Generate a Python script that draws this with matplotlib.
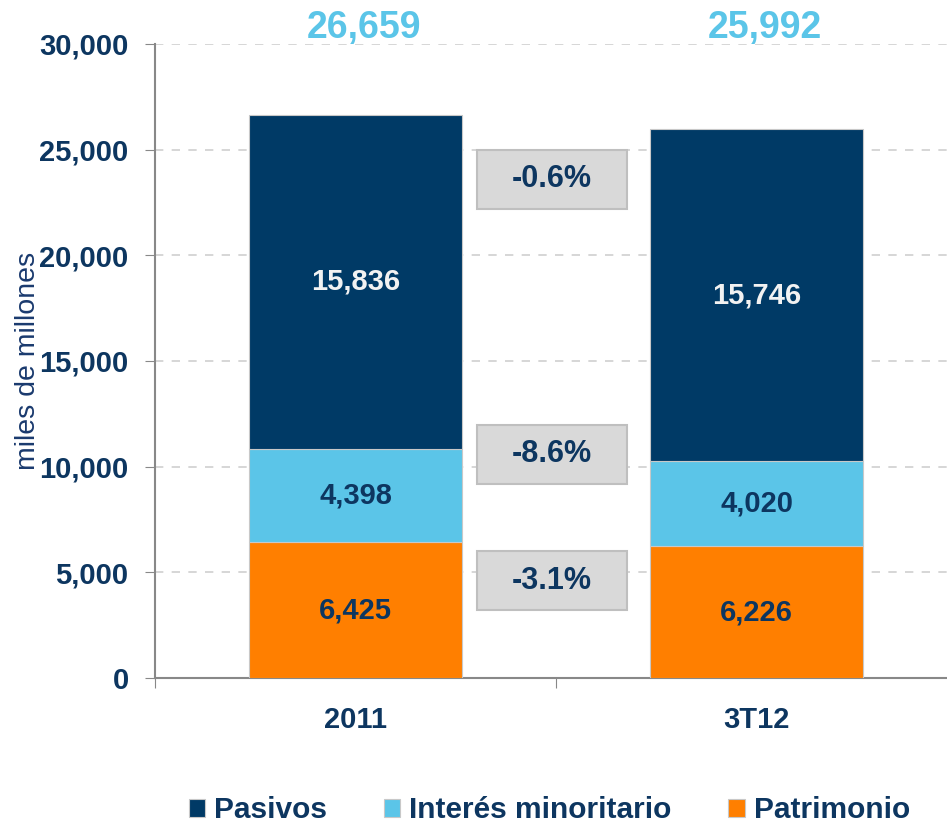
import numpy as np
import matplotlib.pyplot as plt
from matplotlib.patches import Rectangle

plt.rcParams['font.family'] = ['Liberation Sans', 'DejaVu Sans']

categories = ['2011', '3T12']
patrimonio = [6425, 6226]
interes = [4398, 4020]
pasivos = [15836, 15746]
totals = [26659, 25992]
changes = ['-0.6%', '-8.6%', '-3.1%']
change_y = [23590, 10580, 4610]

navy = '#003A66'
lblue = '#5BC5E8'
orange = '#FF7F00'
txt = '#0D3660'

fig = plt.figure(figsize=(9.47, 8.27), dpi=100)
ax = fig.add_axes([0.1637, 0.1802, 0.847, 0.7666])

x = np.arange(len(categories))
w = 0.53
ax.bar(x, patrimonio, w, color=orange, edgecolor='#c8c8c8', linewidth=0.8, label='Patrimonio', zorder=3)
ax.bar(x, interes, w, bottom=patrimonio, color=lblue, edgecolor='#c8c8c8', linewidth=0.8,
       label='Interés minoritario', zorder=3)
bot2 = np.array(patrimonio) + np.array(interes)
ax.bar(x, pasivos, w, bottom=bot2, color=navy, edgecolor='#c8c8c8', linewidth=0.8, label='Pasivos', zorder=3)

for i in range(len(x)):
    ax.text(x[i], patrimonio[i] / 2, '{:,}'.format(patrimonio[i]), ha='center', va='center',
            fontsize=21, fontweight='bold', color=txt, zorder=5)
    ax.text(x[i], patrimonio[i] + interes[i] / 2, '{:,}'.format(interes[i]), ha='center', va='center',
            fontsize=21, fontweight='bold', color=txt, zorder=5)
    ax.text(x[i], bot2[i] + pasivos[i] / 2, '{:,}'.format(pasivos[i]), ha='center', va='center',
            fontsize=21, fontweight='bold', color='#f2f2f2', zorder=5)
    ax.text(x[i] + 0.02, 30750, '{:,}'.format(totals[i]), ha='center', va='center',
            fontsize=27, fontweight='bold', color=lblue, clip_on=False)

bw, bh = 0.374, 2790
for lab, yc in zip(changes, change_y):
    ax.add_patch(Rectangle((0.49 - bw / 2, yc - bh / 2), bw, bh, facecolor='#D9D9D9',
                           edgecolor='#BFBFBF', linewidth=1.5, zorder=4))
    ax.text(0.49, yc, lab, ha='center', va='center', fontsize=22, fontweight='bold', color=txt, zorder=5)

ax.set_xlim(-0.5, 1.5)
ax.set_ylim(0, 30000)
ax.set_yticks(np.arange(0, 30001, 5000))
ax.set_yticklabels(['{:,}'.format(v) for v in range(0, 30001, 5000)],
                   fontsize=21, fontweight='bold', color=txt)
ax.set_xticks([-0.5, 0.5, 1.5])
ax.set_xticklabels([])
ax.set_xticks(x, minor=True)
ax.set_xticklabels(categories, minor=True, fontsize=21, fontweight='bold', color=txt)
ax.tick_params(axis='x', which='minor', length=0, pad=20)
ax.tick_params(axis='x', which='major', length=7, color='#888888')
ax.tick_params(axis='y', length=7, color='#888888', pad=12)
ax.grid(axis='y', linestyle=(0, (5, 5)), color='#d0d0d0', linewidth=1.2, zorder=0)
for s in ['top', 'right']:
    ax.spines[s].set_visible(False)
for s in ['left', 'bottom']:
    ax.spines[s].set_color('#888888')
    ax.spines[s].set_linewidth(1.5)

ax.set_ylabel('miles de millones', fontsize=20.5, color='#1a3a6e')
ax.yaxis.set_label_coords(-0.142, 0.5)

h, l = ax.get_legend_handles_labels()
order = [2, 1, 0]
leg = fig.legend([h[i] for i in order], [l[i] for i in order], loc='center', ncol=3,
                 bbox_to_anchor=(0.58, 0.02), frameon=False, fontsize=21.5,
                 handlelength=0.55, handleheight=0.55, columnspacing=1.9, handletextpad=0.3)
for t in leg.get_texts():
    t.set_fontweight('bold')
    t.set_color(txt)

fig.savefig('out.png', dpi=100)
